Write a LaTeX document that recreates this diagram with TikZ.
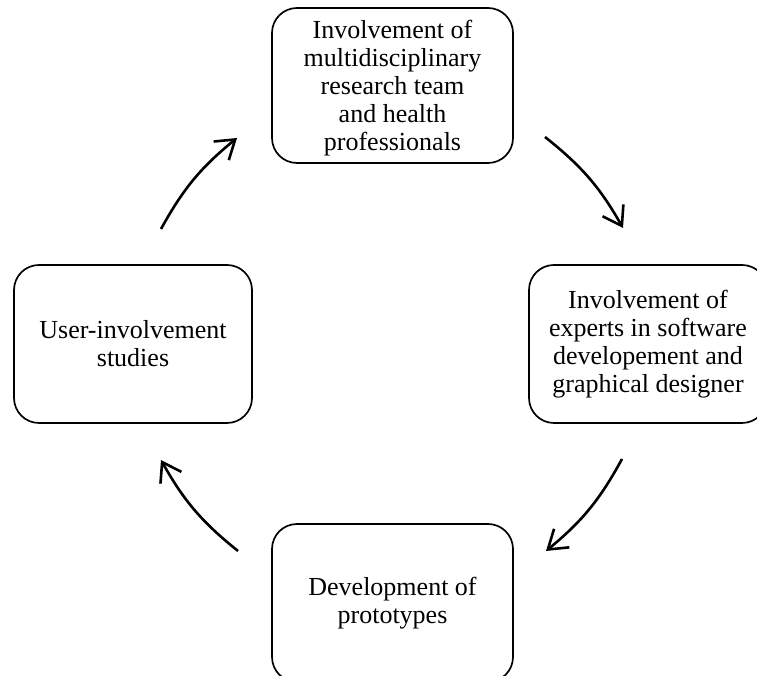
\documentclass[tikz,border=0pt]{standalone}
\usepackage{fontspec}
\setmainfont{Liberation Serif}
\usetikzlibrary{arrows.meta}
\begin{document}
\begin{tikzpicture}[x=1pt,y=1pt,
  stagebox/.style={draw=black, line width=1.7pt, rounded corners=25pt, align=center,
    font=\fontsize{26}{28}\selectfont, inner sep=0pt},
  cyclearrow/.style={-{Straight Barb[length=18pt,width=24pt,line width=2.6pt]}, line width=2.6pt, bend left=11}]
\useasboundingbox (0,0) rectangle (757,676);
\clip (0,0) rectangle (757,676);
\node[stagebox, minimum width=241pt, minimum height=155pt] (top) at (392.5,590.5)
  {\rule{0pt}{24pt}Involvement of\\multidisciplinary\\research team\\and health\\professionals};
\node[stagebox, minimum width=238pt, minimum height=158pt] (right) at (648,332)
  {Involvement of\\experts in software\\developement and\\graphical designer};
\node[stagebox, minimum width=241pt, minimum height=158pt] (bottom) at (392.5,73)
  {Development of\\prototypes};
\node[stagebox, minimum width=238pt, minimum height=158pt] (left) at (133,332)
  {User-involvement\\studies};
\coordinate (a1s) at (545,539);
\coordinate (a1e) at (623,448);
\coordinate (a2s) at (622,217);
\coordinate (a2e) at (546,125);
\coordinate (a3s) at (238,125);
\coordinate (a3e) at (161,216);
\coordinate (a4s) at (161,447);
\coordinate (a4e) at (237,538);
\draw[cyclearrow] (a1s) to (a1e);
\draw[cyclearrow] (a2s) to (a2e);
\draw[cyclearrow] (a3s) to (a3e);
\draw[cyclearrow] (a4s) to (a4e);
\end{tikzpicture}
\end{document}
